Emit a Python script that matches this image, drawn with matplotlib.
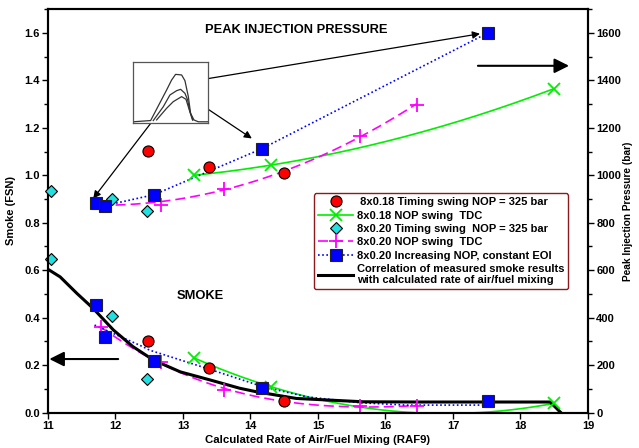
import numpy as np
import matplotlib.pyplot as plt
from matplotlib.lines import Line2D

plt.rcParams['font.family'] = ['Liberation Sans', 'DejaVu Sans']
plt.rcParams['font.weight'] = 'bold'

# 8x0.18 timing swing, NOP = 325 bar
raf_t18 = [12.48, 13.39, 14.50]
smoke_t18 = [0.30, 0.19, 0.05]
pip_t18 = [1103, 1034, 1011]
# 8x0.18 NOP swing, TDC
raf_n18 = [13.17, 14.31, 18.49]
smoke_n18 = [0.230, 0.109, 0.039]
pip_n18 = [1000, 1043, 1364]
# 8x0.20 timing swing, NOP = 325 bar
raf_t20 = [11.04, 11.95, 12.46]
smoke_t20 = [0.649, 0.408, 0.140]
pip_t20 = [935, 899, 851]
# 8x0.20 NOP swing, TDC
raf_n20 = [11.78, 12.67, 13.61, 15.62, 16.46]
smoke_n20 = [0.359, 0.215, 0.095, 0.028, 0.028]
pip_n20 = [880, 876, 944, 1166, 1297]
# 8x0.20 increasing NOP, constant EOI
raf_eoi = [11.71, 11.84, 12.57, 14.17, 17.52]
smoke_eoi = [0.452, 0.318, 0.219, 0.103, 0.049]
pip_eoi = [883, 872, 918, 1112, 1600]
# smoke trend line of the EOI series
raf_eoi_trend = [11.69, 12.02, 12.36, 12.51, 13.35, 14.19, 14.83, 15.62, 16.31, 17.45, 17.52]
smoke_eoi_trend = [0.369, 0.327, 0.284, 0.263, 0.187, 0.109, 0.067, 0.042, 0.032, 0.032, 0.033]
# correlation curve
raf_corr = [11.0, 11.18, 11.43, 11.67, 11.97, 12.26, 12.56, 12.96, 13.40,
            13.84, 14.09, 14.68, 15.67, 16.5, 17.5, 18.44, 18.6]
smoke_corr = [0.604, 0.572, 0.502, 0.439, 0.348, 0.278, 0.222, 0.172, 0.138,
              0.103, 0.088, 0.060, 0.046, 0.045, 0.045, 0.045, 0.0]

# injection rate traces shown in the inset (normalised)
tr_u1 = [0, 0.235, 0.447, 0.513, 0.566, 0.646, 0.69, 0.735, 0.765, 0.81, 0.867, 1]
tr_v1 = [0.02, 0.04, 0.538, 0.70, 0.793, 0.783, 0.69, 0.43, 0.158, 0.05, 0.02, 0.02]
tr_u2 = [0.27, 0.403, 0.491, 0.58, 0.633, 0.69, 0.726, 0.757, 0.792]
tr_v2 = [0.04, 0.266, 0.457, 0.527, 0.549, 0.484, 0.375, 0.185, 0.05]
tr_u3 = [0.314, 0.447, 0.535, 0.646, 0.704, 0.748, 0.792]
tr_v3 = [0.05, 0.24, 0.348, 0.43, 0.386, 0.212, 0.05]


def fit(x, y, deg):
    xs = np.linspace(min(x), max(x), 200)
    return xs, np.polyval(np.polyfit(x, y, deg), xs)


fig = plt.figure(figsize=(6.39, 4.48), dpi=100)
ax = fig.add_axes([0.0751, 0.0788, 0.845, 0.901])
ax2 = ax.twinx()

red, green, cyan, mag, blue = '#ff0000', '#00ee00', '#22e0e0', '#ff00ff', '#0000ff'
dots = (0, (1, 1.5))
dash = (0, (6, 3))

# smoke (left axis)
ax.plot(raf_corr, smoke_corr, color='k', lw=2.2, zorder=3)
ax.plot(*fit(raf_n18, smoke_n18, 2), color=green, lw=1.2)
ax.plot(*fit(raf_n20, smoke_n20, 3), color=mag, lw=1.2, ls=dash)
ax.plot(raf_eoi_trend, smoke_eoi_trend, color=blue, lw=1.2, ls=dots)

# pressure (right axis)
ax2.plot(*fit(raf_n18, pip_n18, 2), color=green, lw=1.2)
ax2.plot(*fit(raf_n20, pip_n20, 2), color=mag, lw=1.2, ls=dash)
ax2.plot(raf_eoi, pip_eoi, color=blue, lw=1.2, ls=dots)

for a, ys in ((ax, (smoke_t18, smoke_n18, smoke_t20, smoke_n20, smoke_eoi)),
              (ax2, (pip_t18, pip_n18, pip_t20, pip_n20, pip_eoi))):
    a.plot(raf_t18, ys[0], 'o', ms=8, mfc=red, mec='k', mew=0.8, clip_on=False, zorder=5)
    a.plot(raf_n18, ys[1], 'x', ms=9, color=green, mew=1.3, clip_on=False, zorder=5)
    a.plot(raf_t20, ys[2], 'D', ms=6, mfc=cyan, mec='k', mew=0.8, clip_on=False, zorder=5)
    a.plot(raf_n20, ys[3], '+', ms=10, color=mag, mew=1.3, clip_on=False, zorder=5)
    a.plot(raf_eoi, ys[4], 's', ms=8, mfc=blue, mec='#222222', mew=0.8, clip_on=False, zorder=5)

ax.set_xlim(11, 19)
ax.set_ylim(0, 1.7)
ax2.set_ylim(0, 1700)
ax.set_xticks(range(11, 20))
ax.set_yticks(np.arange(0, 1.61, 0.2))
ax.set_yticks(np.arange(0, 1.71, 0.1), minor=True)
ax2.set_yticks(range(0, 1601, 200))
ax2.set_yticks(range(0, 1701, 100), minor=True)
ax.yaxis.set_major_formatter(plt.FormatStrFormatter('%.1f'))
for a in (ax, ax2):
    a.tick_params(which='major', direction='out', length=4, width=1, labelsize=8, pad=2)
    a.tick_params(which='minor', direction='out', length=3, width=1)
    for lab in a.get_xticklabels() + a.get_yticklabels():
        lab.set_fontweight('bold')
    for s in a.spines.values():
        s.set_linewidth(1.5)

ax.set_xlabel('Calculated Rate of Air/Fuel Mixing (RAF9)', fontsize=8.2,
              fontweight='bold', labelpad=3)
ax.set_ylabel('Smoke (FSN)', fontsize=8, fontweight='bold', labelpad=6)
ax2.set_ylabel('Peak Injection Pressure (bar)', fontsize=7.3, fontweight='bold', labelpad=1)

ax.text(13.33, 1.611, 'PEAK INJECTION PRESSURE', fontsize=9.3, fontweight='bold', va='center')
ax.text(12.90, 0.491, 'SMOKE', fontsize=9.3, fontweight='bold', va='center')

# big direction arrows
ax.annotate('', xy=(18.72, 1.461), xytext=(17.37, 1.461),
            arrowprops=dict(arrowstyle='-|>', color='k', lw=1.5, mutation_scale=22,
                            shrinkA=0, shrinkB=0))
ax.annotate('', xy=(11.02, 0.226), xytext=(12.04, 0.226),
            arrowprops=dict(arrowstyle='-|>', color='k', lw=1.5, mutation_scale=22,
                            shrinkA=0, shrinkB=0))

# arrows from the inset traces to the points
for start, end in (((13.05, 1.392), (17.40, 1.596)),
                   ((13.03, 1.343), (14.02, 1.155)),
                   ((12.63, 1.259), (11.67, 0.902))):
    ax2.annotate('', xy=(end[0], end[1] * 1000), xytext=(start[0], start[1] * 1000),
                 arrowprops=dict(arrowstyle='-|>', color='k', lw=0.9, mutation_scale=11,
                                 shrinkA=0, shrinkB=0))

handles = [
    Line2D([], [], ls='none', marker='o', ms=8, mfc=red, mec='k', mew=0.8),
    Line2D([], [], color=green, lw=1.2, marker='x', ms=9, mew=1.3),
    Line2D([], [], ls='none', marker='D', ms=6, mfc=cyan, mec='k', mew=0.8),
    Line2D([], [], color=mag, lw=1.2, ls=dash, marker='+', ms=10, mew=1.3),
    Line2D([], [], color=blue, lw=1.2, ls=dots, marker='s', ms=8, mfc=blue, mec='#222222', mew=0.8),
    Line2D([], [], color='k', lw=2.2),
]
labels = [
    ' 8x0.18 Timing swing NOP = 325 bar',
    '8x0.18 NOP swing  TDC',
    '8x0.20 Timing swing  NOP = 325 bar',
    '8x0.20 NOP swing  TDC',
    '8x0.20 Increasing NOP, constant EOI',
    'Correlation of measured smoke results\nwith calculated rate of air/fuel mixing',
]
leg = ax2.legend(handles, labels, loc='upper left', bbox_to_anchor=(0.4926, 0.5435),
                 fontsize=8, fancybox=True, framealpha=1, edgecolor='#8b1a1a',
                 handlelength=3.2, handletextpad=0.3, labelspacing=0.3,
                 borderpad=0.35, borderaxespad=0)
leg.get_frame().set_linewidth(1.0)
for t in leg.get_texts():
    t.set_fontweight('bold')
leg.set_zorder(10)

# inset with injection rate traces
ins = fig.add_axes([0.208, 0.7254, 0.118, 0.137])
for u, v in ((tr_u1, tr_v1), (tr_u2, tr_v2), (tr_u3, tr_v3)):
    ins.plot(u, v, color='#333333', lw=0.9)
ins.set_xlim(0, 1)
ins.set_ylim(0, 1)
ins.set_xticks([])
ins.set_yticks([])
for s in ins.spines.values():
    s.set_color('#555555')
    s.set_linewidth(0.9)

fig.savefig('out.png', dpi=100)
